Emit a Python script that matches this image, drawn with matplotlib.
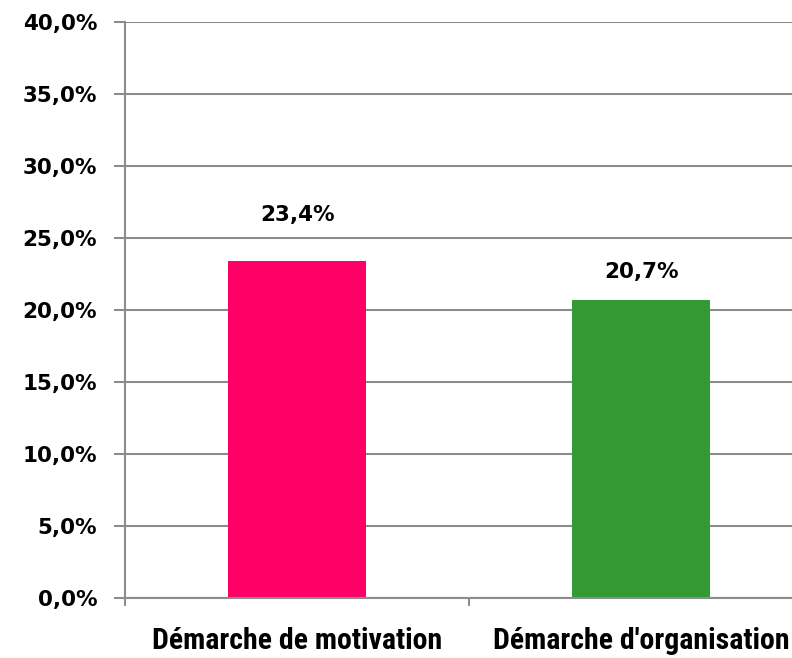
import matplotlib
matplotlib.use("Agg")
import matplotlib.pyplot as plt
from matplotlib.ticker import FixedLocator, FuncFormatter

# data
categories = ["Démarche de motivation", "Démarche d'organisation"]
values = [23.4, 20.7]
bar_colors = ["#FF0066", "#339933"]
label_offsets = [26, 13]  # points above bar top

grid_grey = "#8C8C8C"
num_font = "DejaVu Sans"
cat_font = ["Roboto Condensed", "Barlow Semi Condensed", "DejaVu Sans"]

fig = plt.figure(figsize=(7.92, 6.58), dpi=100)
ax = fig.add_axes([125 / 792, 60 / 658, 688 / 792, 576 / 658])

x = list(range(len(categories)))
ax.bar(x, values, width=0.4, color=bar_colors, zorder=3)

for xi, v, off in zip(x, values, label_offsets):
    ax.annotate(f"{v:.1f}%".replace(".", ","), (xi, v), xytext=(0, off),
                textcoords="offset points", ha="center", va="bottom",
                fontsize=15.5, fontweight="bold", family=num_font)

ax.set_xlim(-0.5, len(categories) - 0.5)
ax.set_ylim(0, 40)

# y axis
ax.yaxis.set_major_locator(FixedLocator([i * 5 for i in range(9)]))
ax.yaxis.set_major_formatter(FuncFormatter(lambda v, p: f"{v:.1f}%".replace(".", ",")))
ax.tick_params(axis="y", direction="out", length=8, width=1.5, color=grid_grey,
               pad=12, labelsize=15.5)
for lab in ax.get_yticklabels():
    lab.set_fontweight("bold")
    lab.set_family(num_font)
ax.grid(axis="y", color=grid_grey, linewidth=1.5, zorder=0)

# x axis: ticks between categories, labels at centres
ax.xaxis.set_major_locator(FixedLocator([i - 0.5 for i in range(len(categories) + 1)]))
ax.xaxis.set_major_formatter(FuncFormatter(lambda v, p: ""))
ax.xaxis.set_minor_locator(FixedLocator(x))
ax.set_xticklabels(categories, minor=True)
ax.tick_params(axis="x", which="major", direction="out", length=6, width=1.5, color=grid_grey)
ax.tick_params(axis="x", which="minor", length=0, pad=21, labelsize=21.5)
for lab in ax.get_xticklabels(minor=True):
    lab.set_fontweight("bold")
    lab.set_family(cat_font)

for s in ["top", "right"]:
    ax.spines[s].set_visible(False)
for s in ["left", "bottom"]:
    ax.spines[s].set_color(grid_grey)
    ax.spines[s].set_linewidth(1.5)
    ax.spines[s].set_zorder(4)

fig.savefig("out.png", dpi=100)
